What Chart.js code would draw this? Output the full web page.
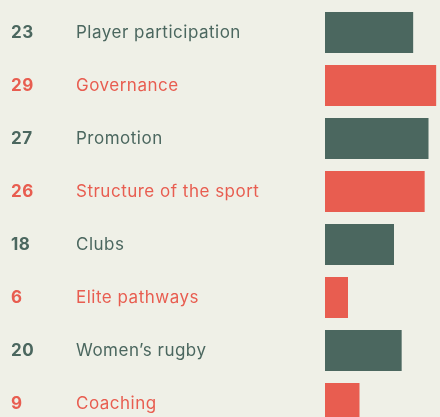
<!DOCTYPE html>
<html>
<head>
<meta charset="utf-8">
<script src="https://cdn.jsdelivr.net/npm/chart.js@4/dist/chart.umd.min.js"></script>
<style>
  html, body { margin: 0; padding: 0; background: #eff0e7; overflow: hidden; }
  #wrap { position: relative; width: 440px; height: 430px; }
</style>
</head>
<body>
<div id="wrap"><canvas id="topicsChart"></canvas></div>
<script>
var topics = ["Player participation", "Governance", "Promotion", "Structure of the sport",
    "Clubs", "Elite pathways", "Women\u2019s rugby", "Coaching"];
var mentions = [23, 29, 27, 26, 18, 6, 20, 9];

var green = '#4b675f';
var red = '#e85d50';
var rowColors = topics.map(function (t, i) { return i % 2 === 0 ? green : red; });

// numbers and topic names drawn in two columns left of the bars
var rowLabels = {
    id: 'rowLabels',
    afterDraw: function (chart) {
        var ctx = chart.ctx;
        var yScale = chart.scales.y;
        ctx.save();
        ctx.textBaseline = 'middle';
        ctx.textAlign = 'left';
        ctx.letterSpacing = '0.5px';
        topics.forEach(function (name, i) {
            var y = yScale.getPixelForValue(i);
            ctx.fillStyle = rowColors[i];
            ctx.font = 'bold 17px Inter';
            ctx.fillText(String(mentions[i]), 11, y);
            ctx.font = '17px Inter';
            ctx.fillText(name, 76, y);
        });
        ctx.restore();
    }
};

var topicsChart = new Chart(document.getElementById('topicsChart'), {
    type: 'bar',
    data: {
        labels: topics,
        datasets: [{
            data: mentions,
            backgroundColor: rowColors,
            borderWidth: 0,
            barPercentage: 1,
            categoryPercentage: 41 / 53
        }]
    },
    options: {
        indexAxis: 'y',
        responsive: true,
        maintainAspectRatio: false,
        animation: false,
        layout: { padding: { left: 325, top: 6, right: 0, bottom: 0 } },
        scales: {
            x: { display: false, min: 0, max: 30 },
            y: { display: false }
        },
        plugins: {
            legend: { display: false },
            tooltip: { enabled: false }
        }
    },
    plugins: [rowLabels]
});
</script>
</body>
</html>
